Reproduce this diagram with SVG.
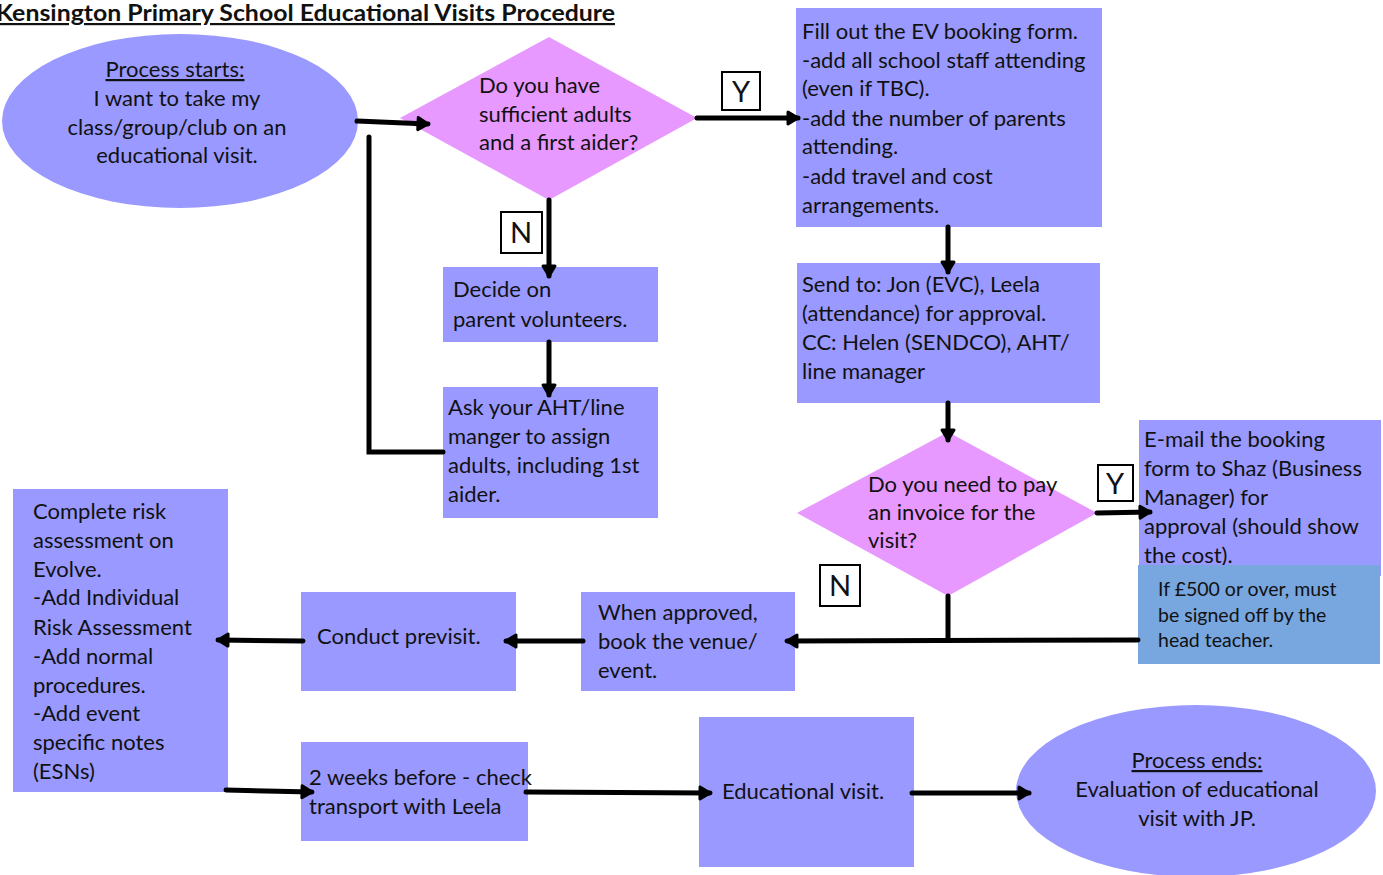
<svg xmlns="http://www.w3.org/2000/svg" width="1383" height="875" viewBox="0 0 1383 875">
<defs>
<marker id="ah" markerUnits="userSpaceOnUse" markerWidth="20" markerHeight="20" refX="12" refY="8" orient="auto">
<path d="M2,2 L12,8 L2,14 Z" fill="#000" stroke="#000" stroke-width="3" stroke-linejoin="round"/>
</marker>
</defs>
<style>
.t{font-family:Lato,"Open Sans","Liberation Sans",sans-serif;font-size:22px;fill:#111}
.s{font-size:19.5px}
.yn{font-size:29px}
.c{text-anchor:middle}
.box{fill:#9999ff}
.dia{fill:#e899ff}
.lbl{fill:#fff;stroke:#000;stroke-width:2}
.ln{stroke:#000;stroke-width:5;fill:none;stroke-linecap:round;stroke-linejoin:miter}
.ar{marker-end:url(#ah)}
</style>
<rect width="1383" height="875" fill="#fff"/>
<text x="-4" y="21" font-family="Lato,'Open Sans','Liberation Sans',sans-serif" font-size="22" font-weight="bold" text-decoration="underline" fill="#111" textLength="619" lengthAdjust="spacingAndGlyphs">Kensington Primary School Educational Visits Procedure</text>

<g id="start">
<ellipse class="box" cx="180" cy="121" rx="178" ry="87"/>
<text class="t c" x="175" y="77" text-decoration="underline">Process starts:</text>
<text class="t c" x="177" y="106">I want to take my</text>
<text class="t c" x="177" y="135">class/group/club on an</text>
<text class="t c" x="177" y="163">educational visit.</text>
</g>

<g id="q-adults">
<polygon class="dia" points="549,37 697,118 549,200 400,118"/>
<text class="t" x="479" y="93">Do you have</text>
<text class="t" x="479" y="122">sufficient adults</text>
<text class="t" x="479" y="150">and a first aider?</text>
</g>

<g id="y1">
<rect class="lbl" x="722" y="72" width="38" height="38"/>
<text class="t c yn" x="741" y="102">Y</text>
</g>

<g id="fill-form">
<rect class="box" x="796" y="8" width="306" height="219"/>
<text class="t" x="802" y="39">Fill out the EV booking form.</text>
<text class="t" x="802" y="68">-add all school staff attending</text>
<text class="t" x="802" y="96">(even if TBC).</text>
<text class="t" x="802" y="126">-add the number of parents</text>
<text class="t" x="802" y="154">attending.</text>
<text class="t" x="802" y="184">-add travel and cost</text>
<text class="t" x="802" y="213">arrangements.</text>
</g>

<g id="n1">
<rect class="lbl" x="501" y="212" width="41" height="41"/>
<text class="t c yn" x="521" y="243">N</text>
</g>

<g id="decide">
<rect class="box" x="443" y="267" width="215" height="75"/>
<text class="t" x="453" y="297">Decide on</text>
<text class="t" x="453" y="327">parent volunteers.</text>
</g>

<g id="ask">
<rect class="box" x="443" y="387" width="215" height="131"/>
<text class="t" x="448" y="415">Ask your AHT/line</text>
<text class="t" x="448" y="444">manger to assign</text>
<text class="t" x="448" y="473">adults, including 1st</text>
<text class="t" x="448" y="502">aider.</text>
</g>

<g id="send">
<rect class="box" x="797" y="263" width="303" height="140"/>
<text class="t" x="802" y="292">Send to: Jon (EVC), Leela</text>
<text class="t" x="802" y="321">(attendance) for approval.</text>
<text class="t" x="802" y="350">CC: Helen (SENDCO), AHT/</text>
<text class="t" x="802" y="379">line manager</text>
</g>

<g id="q-invoice">
<polygon class="dia" points="948,432 1097,513 948,596 797,513"/>
<text class="t" x="868" y="492">Do you need to pay</text>
<text class="t" x="868" y="520">an invoice for the</text>
<text class="t" x="868" y="548">visit?</text>
</g>

<g id="y2">
<rect class="lbl" x="1098" y="465" width="35" height="36"/>
<text class="t c yn" x="1115" y="494">Y</text>
</g>

<g id="email">
<rect class="box" x="1139" y="420" width="242" height="156"/>
<text class="t" x="1144" y="447">E-mail the booking</text>
<text class="t" x="1144" y="476">form to Shaz (Business</text>
<text class="t" x="1144" y="505">Manager) for</text>
<text class="t" x="1144" y="534">approval (should show</text>
<text class="t" x="1144" y="563">the cost).</text>
</g>

<g id="note">
<rect x="1138" y="565" width="242" height="99" fill="#78a6de"/>
<text class="t s" x="1158" y="596">If £500 or over, must</text>
<text class="t s" x="1158" y="622">be signed off by the</text>
<text class="t s" x="1158" y="647">head teacher.</text>
</g>

<g id="n2">
<rect class="lbl" x="820" y="565" width="40" height="41"/>
<text class="t c yn" x="840" y="596">N</text>
</g>

<g id="book">
<rect class="box" x="581" y="592" width="214" height="99"/>
<text class="t" x="598" y="620">When approved,</text>
<text class="t" x="598" y="649">book the venue/</text>
<text class="t" x="598" y="678">event.</text>
</g>

<g id="previsit">
<rect class="box" x="301" y="592" width="215" height="99"/>
<text class="t" x="317" y="644">Conduct previsit.</text>
</g>

<g id="risk">
<rect class="box" x="13" y="489" width="215" height="303"/>
<text class="t" x="33" y="519">Complete risk</text>
<text class="t" x="33" y="548">assessment on</text>
<text class="t" x="33" y="577">Evolve.</text>
<text class="t" x="33" y="605">-Add Individual</text>
<text class="t" x="33" y="635">Risk Assessment</text>
<text class="t" x="33" y="664">-Add normal</text>
<text class="t" x="33" y="693">procedures.</text>
<text class="t" x="33" y="721">-Add event</text>
<text class="t" x="33" y="750">specific notes</text>
<text class="t" x="33" y="779">(ESNs)</text>
</g>

<g id="transport">
<rect class="box" x="301" y="742" width="227" height="99"/>
<text class="t" x="309" y="785">2 weeks before - check</text>
<text class="t" x="309" y="814">transport with Leela</text>
</g>

<g id="visit">
<rect class="box" x="699" y="717" width="215" height="150"/>
<text class="t" x="722" y="799">Educational visit.</text>
</g>

<g id="end">
<ellipse class="box" cx="1196" cy="791" rx="180" ry="86"/>
<text class="t c" x="1197" y="768" text-decoration="underline">Process ends:</text>
<text class="t c" x="1197" y="797">Evaluation of educational</text>
<text class="t c" x="1197" y="826">visit with JP.</text>
</g>

<g id="connectors">
<line class="ln ar" x1="357" y1="121" x2="428" y2="124"/>
<line class="ln ar" x1="697" y1="118" x2="798" y2="118" stroke-width="7"/>
<line class="ln ar" x1="549" y1="200" x2="549" y2="276"/>
<line class="ln ar" x1="549" y1="342" x2="549" y2="395"/>
<polyline class="ln" points="443,452 369,452 369,137"/>
<line class="ln ar" x1="948" y1="227" x2="948" y2="272"/>
<line class="ln ar" x1="948" y1="403" x2="948" y2="440"/>
<line class="ln ar" x1="1097" y1="513" x2="1150" y2="512"/>
<line class="ln" x1="948" y1="596" x2="948" y2="640"/>
<line class="ln ar" x1="1138" y1="640" x2="787" y2="641"/>
<line class="ln ar" x1="583" y1="641" x2="506" y2="641"/>
<line class="ln ar" x1="303" y1="641" x2="218" y2="640"/>
<line class="ln ar" x1="226" y1="790" x2="312" y2="792"/>
<line class="ln ar" x1="526" y1="792" x2="710" y2="793"/>
<line class="ln ar" x1="912" y1="793" x2="1029" y2="793"/>
</g>
</svg>
